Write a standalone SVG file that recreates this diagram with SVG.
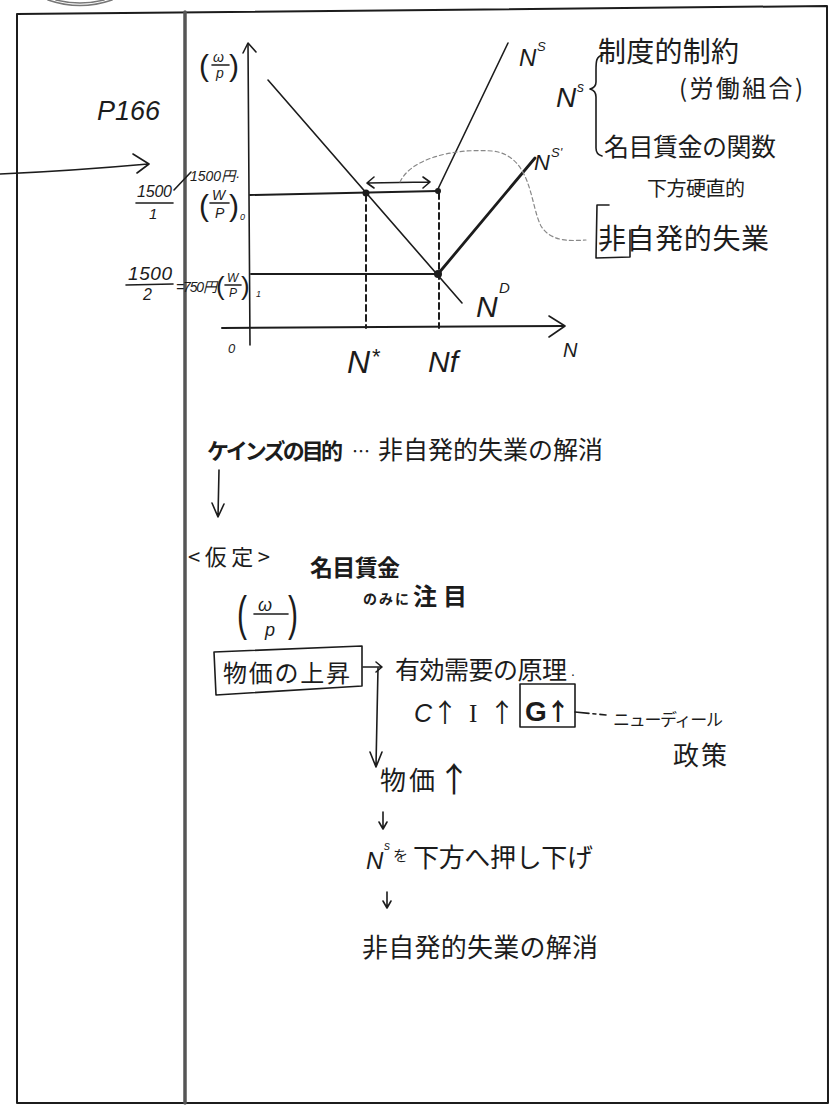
<svg xmlns="http://www.w3.org/2000/svg" width="832" height="1108" viewBox="0 0 832 1108">
<style>
.ln{fill:none;stroke:#1c1c1c;stroke-width:1.6;stroke-linecap:round;stroke-linejoin:round}
.thk{stroke-width:2.8}
.dsh{stroke-dasharray:6 4;stroke-width:2}
.jp{font-family:"Noto Sans CJK JP","Noto Sans CJK SC",sans-serif;fill:#1c1c1c}
.b{font-weight:bold}
.it{font-family:"Liberation Sans",sans-serif;font-style:italic;fill:#1c1c1c}
.rm{font-family:"Liberation Sans",sans-serif;fill:#1c1c1c}
.sf{font-family:"Liberation Serif",serif;fill:#1c1c1c}
.dot{fill:#1c1c1c}
</style>
<rect width="832" height="1108" fill="#ffffff"/>
<g id="frame" class="ln">
<path d="M17,14 L827,6 L828,1103 L17,1103 Z" stroke-width="2"/>
<line x1="185" y1="12" x2="185" y2="1103" stroke="#555" stroke-width="3.5"/>
<path d="M48,0 Q80,11 112,0 M56,0 Q80,6 104,0" stroke="#777"/>
</g>

<g id="graph">
<g class="ln">
<path d="M250,345 L248,44"/>
<path d="M243,53 L248,43 L256,52"/>
<path d="M222,328 L564,326" stroke-width="2"/>
<path d="M549,316 L565,326 L549,337"/>
<path d="M250,195 L438,191" stroke-width="2"/>
<path d="M251,274 L438,274" stroke-width="2"/>
<path class="dsh" d="M366,195 L366,328"/>
<path class="dsh" d="M439,193 L439,328"/>
<path d="M268,80 L462,303"/>
<path d="M437,191 L508,43"/>
<path class="thk" d="M438,274 L535,158"/>
<path d="M368,183 L429,182 M374,177 L367,183 L374,188 M423,177 L430,182 L423,188"/>
</g>
<circle class="dot" cx="366" cy="193" r="3.5"/>
<circle class="dot" cx="438" cy="191" r="3"/>
<circle class="dot" cx="438" cy="274" r="4"/>
<text class="it" x="228" y="353" font-size="13">0</text>
<text class="it" x="347" y="373" font-size="32">N</text>
<text class="rm" x="372" y="364" font-size="22">*</text>
<text class="it" x="428" y="372" font-size="30">Nf</text>
<text class="it" x="563" y="357" font-size="20">N</text>
<text class="it" x="519" y="66" font-size="24">N</text>
<text class="it" x="537" y="51" font-size="13">S</text>
<text class="it" x="534" y="170" font-size="22">N</text>
<text class="it" x="551" y="157" font-size="13">S'</text>
<text class="it" x="476" y="317" font-size="30">N</text>
<text class="it" x="499" y="293" font-size="15">D</text>
</g>

<g id="yaxis-label">
<text class="rm" x="199" y="76" font-size="30">(</text>
<text class="it" x="213" y="62" font-size="14">ω</text>
<line class="ln" x1="212" y1="65" x2="229" y2="65" stroke-width="1.2"/>
<text class="it" x="216" y="78" font-size="14">p</text>
<text class="rm" x="229" y="76" font-size="30">)</text>
</g>

<g id="p166"><text class="it" x="97" y="120" font-size="27">P166</text></g>

<g id="w-p-0">
<text class="it" x="137" y="197" font-size="16" textLength="35">1500</text>
<line class="ln" x1="136" y1="203" x2="173" y2="203"/>
<text class="it" x="149" y="219" font-size="15">1</text>
<line class="ln" x1="174" y1="190" x2="191" y2="172" stroke-width="1"/>
<text class="it" x="190" y="181" font-size="14">1500<tspan class="jp">円</tspan>·</text>
<text class="rm" x="199" y="216" font-size="30">(</text>
<text class="it" x="212" y="200" font-size="14">W</text>
<line class="ln" x1="210" y1="203" x2="229" y2="203" stroke-width="1.2"/>
<text class="it" x="215" y="218" font-size="14">P</text>
<text class="rm" x="229" y="216" font-size="30">)</text>
<text class="it" x="240" y="220" font-size="9">0</text>
</g>

<g id="w-p-1">
<text class="it" x="128" y="280" font-size="19" textLength="44">1500</text>
<line class="ln" x1="126" y1="285" x2="173" y2="284"/>
<text class="it" x="143" y="300" font-size="16">2</text>
<text class="it" x="176" y="292" font-size="14" textLength="41">=750<tspan class="jp">円</tspan></text>
<text class="rm" x="216" y="295" font-size="26">(</text>
<text class="it" x="227" y="282" font-size="12">W</text>
<line class="ln" x1="225" y1="285" x2="241" y2="285" stroke-width="1.2"/>
<text class="it" x="229" y="297" font-size="12">P</text>
<text class="rm" x="241" y="295" font-size="26">)</text>
<text class="it" x="256" y="297" font-size="9">1</text>
</g>

<g id="constraint-note">
<text class="it" x="556" y="107" font-size="28">N</text>
<text class="it" x="577" y="92" font-size="14">s</text>
<path class="ln" d="M603,55 C596,56 596,62 596,70 L596,82 C596,86 594,88 590,89 C594,90 596,92 596,97 L596,148 C596,153 598,155 602,156"/>
<text class="jp" x="598" y="62" font-size="28" textLength="141">制度的制約</text>
<text class="jp" x="679" y="97" font-size="24" textLength="124">(労働組合)</text>
<text class="jp" x="604" y="156" font-size="25" textLength="172">名目賃金の関数</text>
<text class="jp" x="647" y="196" font-size="20" textLength="98">下方硬直的</text>
<text class="jp" x="598" y="249" font-size="28" textLength="171">非自発的失業</text>
<path class="ln" d="M609,205 L597,205 L596,258 L630,257 L630,230"/>
</g>

<g id="keynes-goal">
<text class="jp b" x="207" y="459" font-size="22" textLength="136">ケインズの目的</text>
<text class="jp" x="352" y="458" font-size="18">…</text>
<text class="jp" x="378" y="459" font-size="25" textLength="225">非自発的失業の解消</text>
</g>

<g id="assumption">
<text class="jp" x="188" y="565" font-size="22" textLength="82">&lt;仮定&gt;</text>
<text class="jp b" x="310" y="576" font-size="23" textLength="90">名目賃金</text>
<text class="jp b" x="363" y="604" font-size="14" textLength="46">のみに</text>
<text class="jp b" x="413" y="605" font-size="24" textLength="54">注目</text>
</g>

<g id="w-p-mid">
<text class="rm" transform="translate(237,630) scale(1,1.6)" font-size="30">(</text>
<text class="it" x="258" y="611" font-size="18">ω</text>
<line class="ln" x1="254" y1="614" x2="288" y2="614" stroke-width="1.3"/>
<text class="it" x="265" y="636" font-size="18">p</text>
<text class="rm" transform="translate(288,630) scale(1,1.6)" font-size="30">)</text>
</g>

<g id="price-rise">
<path class="ln" d="M214,652 L362,646 L362,686 L216,695 L214,652"/>
<text class="jp" x="223" y="682" font-size="24" textLength="127">物価の上昇</text>
</g>

<g id="effective-demand">
<text class="jp" x="395" y="679" font-size="25" textLength="172">有効需要の原理</text>
<text class="rm" x="571" y="676" font-size="14">.</text>
</g>

<g id="cig">
<text class="it" x="414" y="722" font-size="25">C</text>
<text class="jp" x="432" y="722" font-size="26">↑</text>
<text class="sf" x="469" y="722" font-size="25">I</text>
<text class="jp" x="489" y="722" font-size="26">↑</text>
<rect class="ln" x="520" y="684" width="55" height="43" stroke-width="2.6"/>
<text class="rm b" x="525" y="721" font-size="28">G</text>
<text class="jp b" x="546" y="720" font-size="24">↑</text>
</g>

<g id="new-deal">
<text class="jp" x="613" y="726" font-size="17" textLength="110">ニューディール</text>
<text class="jp" x="673" y="765" font-size="26" textLength="54">政策</text>
</g>

<g id="price-up">
<text class="jp" x="380" y="790" font-size="26" textLength="55">物価</text>
<text class="jp" x="437" y="792" font-size="34">↑</text>
</g>

<g id="push-down">
<text class="it" x="366" y="869" font-size="24">N</text>
<text class="it" x="384" y="850" font-size="12">s</text>
<text class="jp" x="393" y="861" font-size="15">を</text>
<text class="jp" x="413" y="867" font-size="26" textLength="180">下方へ押し下げ</text>
</g>

<g id="resolve">
<text class="jp" x="362" y="957" font-size="26" textLength="236">非自発的失業の解消</text>
</g>

<g id="connectors" class="ln">
<path d="M0,174 Q70,171 148,164 M133,154 L149,164 L137,173"/>
<path d="M400,182 C410,160 450,148 492,151 C532,155 530,205 541,226 C551,242 570,241 586,240" stroke="#888" stroke-width="1.2" stroke-dasharray="4 3"/>
<path d="M219,470 L218,517 M212,503 L218,517 L224,504"/>
<path d="M363,667 L382,667 M376,662 L382,667 L376,672"/>
<path d="M378,668 L376,766 M370,752 L376,767 L382,752"/>
<path d="M575,712 L606,715" stroke-dasharray="14 4 3 4"/>
<path d="M383,812 L383,828 M379,822 L383,829 L387,822"/>
<path d="M387,892 L387,907 M383,901 L387,908 L391,901"/>
</g>
</svg>
